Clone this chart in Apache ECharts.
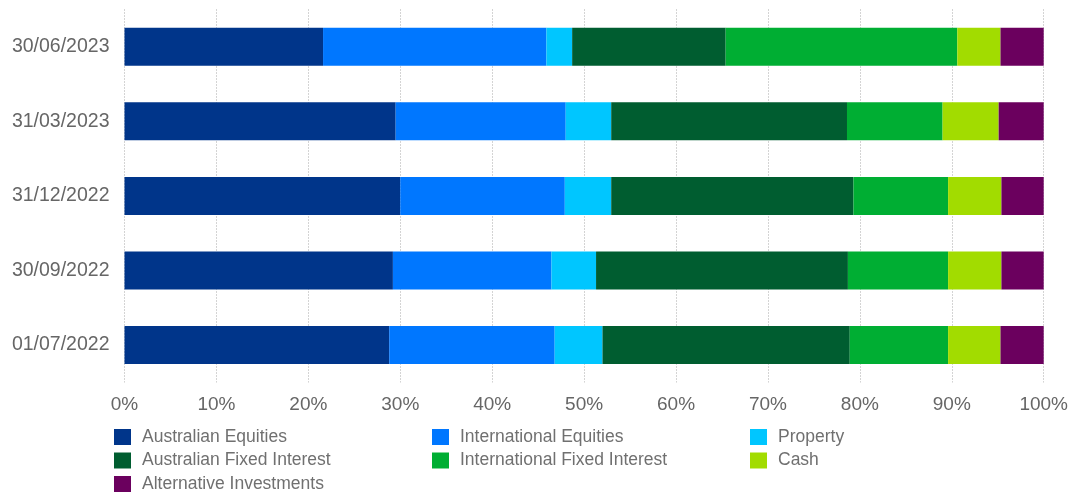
<!DOCTYPE html>
<html>
<head>
<meta charset="utf-8">
<script src="https://cdn.jsdelivr.net/npm/echarts@6/dist/echarts.min.js"></script>
<style>html,body{margin:0;padding:0;background:#fff;}#c{width:1071px;height:492px;}</style>
</head>
<body>
<div id="c"></div>
<script>
// Categories listed bottom to top
const categories = ['01/07/2022', '30/09/2022', '31/12/2022', '31/03/2023', '30/06/2023'];
const australianEquities      = [28.8, 29.2, 30.0, 29.5, 21.6];
const internationalEquities   = [18.0, 17.25, 17.9, 18.5, 24.3];
const property                = [5.2, 4.85, 5.05, 4.95, 2.8];
const australianFixedInterest = [26.9, 27.4, 26.35, 25.65, 16.7];
const internationalFixedInterest = [10.7, 10.9, 10.3, 10.4, 25.2];
const cash                    = [5.7, 5.8, 5.8, 6.1, 4.7];
const alternativeInvestments  = [4.7, 4.6, 4.6, 4.9, 4.7];
const xTicks = [0, 10, 20, 30, 40, 50, 60, 70, 80, 90, 100];

const seriesDefs = [
  ['Australian Equities', australianEquities, '#00358a'],
  ['International Equities', internationalEquities, '#0077ff'],
  ['Property', property, '#00c6ff'],
  ['Australian Fixed Interest', australianFixedInterest, '#005d30'],
  ['International Fixed Interest', internationalFixedInterest, '#00ae33'],
  ['Cash', cash, '#a2dc00'],
  ['Alternative Investments', alternativeInvestments, '#6b005e']
];

const chart = echarts.init(document.getElementById('c'));
const legendBase = {
  orient: 'vertical', top: 428, height: 120, icon: 'rect', itemWidth: 17, itemHeight: 16, itemGap: 6.7,
  padding: 0,
  textStyle: { fontSize: 17.5, lineHeight: 16, color: '#707070', fontFamily: 'Liberation Sans, Arial, sans-serif', padding: [0, 0, 0, 6] },
  selectedMode: false
};
legendBase.itemGap = 5.5;
chart.setOption({
  animation: false,
  grid: { left: 124.5, right: 21, top: 9.5, height: 372.8, containLabel: false },
  legend: [
    Object.assign({}, legendBase, { left: 114, data: ['Australian Equities', 'Australian Fixed Interest', 'Alternative Investments'] }),
    Object.assign({}, legendBase, { left: 432, data: ['International Equities', 'International Fixed Interest'] }),
    Object.assign({}, legendBase, { left: 750, data: ['Property', 'Cash'] })
  ],
  xAxis: {
    type: 'value', min: xTicks[0], max: xTicks[xTicks.length - 1], interval: 10,
    axisLine: { show: false }, axisTick: { show: false },
    splitLine: { show: true, lineStyle: { color: '#a8a8a8', type: [1, 2], width: 1 } },
    axisLabel: { formatter: '{value}%', fontSize: 19, color: '#666', margin: 13, fontFamily: 'Liberation Sans, Arial, sans-serif' }
  },
  yAxis: {
    type: 'category', data: categories,
    axisLine: { show: false }, axisTick: { show: false },
    axisLabel: { fontSize: 19.5, color: '#666', margin: 15, fontFamily: 'Liberation Sans, Arial, sans-serif' }
  },
  series: seriesDefs.map(([name, data, color]) => ({
    name, type: 'bar', stack: 'total', data, barWidth: 38,
    itemStyle: { color }
  }))
});
</script>
</body>
</html>
